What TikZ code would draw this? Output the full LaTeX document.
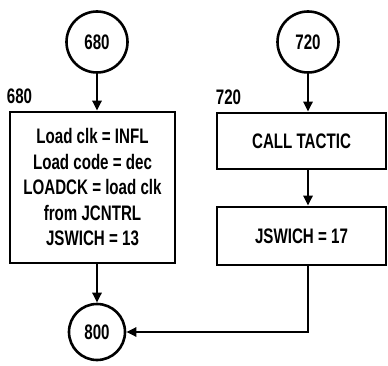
\documentclass[tikz,border=0pt]{standalone}
\usepackage{fontspec}
\setmainfont{Liberation Sans}[FakeStretch=0.72]
\usepackage{tikz}
\usetikzlibrary{positioning,arrows.meta,calc}
\tikzset{
  flowtxt/.style={font=\fontsize{21}{25.5}\selectfont\bfseries},
  conn/.style={circle, draw, line width=2.6pt, minimum size=61pt, inner sep=0pt, flowtxt},
  procbox/.style={rectangle, draw, line width=2.6pt, inner sep=0pt, align=center, flowtxt},
  stmt/.style={flowtxt, inner sep=1pt, anchor=south west},
  flow/.style={-{Triangle[length=10pt,width=9pt]}, line width=2.8pt},
  ret/.style={line width=2.8pt}
}
\begin{document}
\begin{tikzpicture}[x=1pt,y=-1pt]
\useasboundingbox (0,0) rectangle (388,366);
\node[conn] (c680) at (97,42) {680};
\node[procbox, minimum width=165pt, minimum height=151pt] (b680) at (92.5,187.5)
  {Load clk = INFL\\Load code = dec\\LOADCK = load clk\\from JCNTRL\\JSWICH = 13};
\node[stmt] (l680) at ($(b680.north west)+(-3,-6)$) {680};
\node[conn, minimum size=56pt] (c800) at (97,332) {800};
\node[conn] (c720) at (308,42) {720};
\node[procbox, minimum width=169pt, minimum height=56pt] (b720) at (301.5,141) {CALL TACTIC};
\node[stmt] (l720) at ($(b720.north west)+(-1,-6)$) {720};
\node[procbox, minimum width=169pt, minimum height=58pt] (b17) at (301.5,236) {JSWICH = 17};
\draw[flow] (c680) -- (c680 |- b680.north);
\draw[flow] (b680.south -| c800) -- (c800);
\draw[flow] (c720) -- (c720 |- b720.north);
\draw[flow] (b720.south -| c720) -- (b17.north -| c720);
\draw[flow] (b17.south -| c720) |- (c800.east);
\end{tikzpicture}
\end{document}
